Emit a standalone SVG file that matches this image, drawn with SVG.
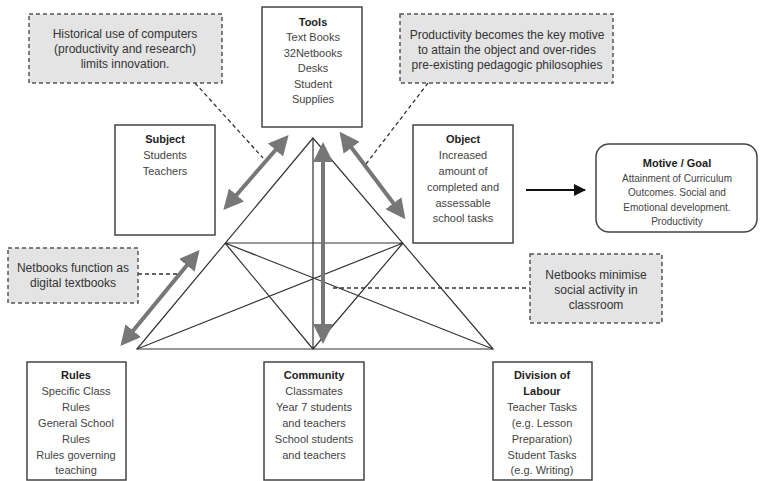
<svg xmlns="http://www.w3.org/2000/svg" width="762" height="481" viewBox="0 0 762 481">
<style>
.box{fill:#fff;stroke:#444;stroke-width:1.5}
.note{fill:#e4e4e4;stroke:#555;stroke-width:1.5;stroke-dasharray:4 3}
.dash{fill:none;stroke:#333;stroke-width:1.3;stroke-dasharray:4 3}
.tri{fill:none;stroke:#333;stroke-width:1.2}
.big{fill:none;stroke:#777;stroke-width:4;marker-start:url(#hs);marker-end:url(#he)}
text{font-family:"Liberation Sans",Arial,sans-serif;text-anchor:middle;fill:#444;font-size:11px}
.h{font-weight:bold;fill:#222}
.n{font-size:12px;fill:#333}
.m{font-size:10px}
</style>
<defs>
<marker id="he" markerWidth="5" markerHeight="5" refX="4" refY="2.5" orient="auto" markerUnits="strokeWidth"><path d="M0,0 L5,2.5 L0,5 Z" fill="#777"/></marker>
<marker id="hs" markerWidth="5" markerHeight="5" refX="1" refY="2.5" orient="auto" markerUnits="strokeWidth"><path d="M5,0 L0,2.5 L5,5 Z" fill="#777"/></marker>
<marker id="blk" markerWidth="12" markerHeight="12" refX="11" refY="6" orient="auto" markerUnits="userSpaceOnUse"><path d="M0,0 L12,6 L0,12 Z" fill="#111"/></marker>
</defs>
<g id="connectors">
<path class="tri" d="M313,138 L137,349 L493,349 Z"/>
<path class="tri" d="M225,243 L403,243 M313,138 L313,349 M225,243 L313,349 M225,243 L493,349 M403,243 L313,349 M403,243 L137,349"/>
<path class="big" d="M226,207 L286,138"/>
<path class="big" d="M342,135 L403,216"/>
<path class="big" d="M323,146 L323,340"/>
<path class="big" d="M123,343 L197,253"/>
<path class="dash" d="M195,83 L263,158"/>
<path class="dash" d="M428,83 L366,164"/>
<path class="dash" d="M138,274 L178,274"/>
<path class="dash" d="M333,288 L530,288"/>
<path d="M526,190 L585,190" stroke="#111" stroke-width="2" fill="none" marker-end="url(#blk)"/>
</g>
<g id="note-historical">
<rect class="note" x="29" y="14" width="193" height="69"/>
<text class="n" x="125" y="38">Historical use of computers</text>
<text class="n" x="125" y="53">(productivity and research)</text>
<text class="n" x="125" y="68">limits innovation.</text>
</g>
<g id="tools">
<rect class="box" x="262" y="7" width="100" height="120"/>
<text class="h" x="313" y="26">Tools</text>
<text x="313" y="41">Text Books</text>
<text x="313" y="57">32Netbooks</text>
<text x="313" y="72">Desks</text>
<text x="313" y="88">Student</text>
<text x="313" y="103">Supplies</text>
</g>
<g id="note-productivity">
<rect class="note" x="400" y="14" width="213" height="69"/>
<text class="n" x="507" y="39">Productivity becomes the key motive</text>
<text class="n" x="507" y="54">to attain the object and over-rides</text>
<text class="n" x="507" y="69">pre-existing pedagogic  philosophies</text>
</g>
<g id="subject">
<rect class="box" x="115" y="125" width="100" height="110"/>
<text class="h" x="165" y="143">Subject</text>
<text x="165" y="159">Students</text>
<text x="165" y="175">Teachers</text>
</g>
<g id="object">
<rect class="box" x="413" y="125" width="100" height="118"/>
<text class="h" x="463" y="143">Object</text>
<text x="463" y="159">Increased</text>
<text x="463" y="175">amount of</text>
<text x="463" y="191">completed and</text>
<text x="463" y="207">assessable</text>
<text x="463" y="222">school tasks</text>
</g>
<g id="motive">
<rect class="box" x="596" y="144" width="161" height="88" rx="13"/>
<text class="h" x="677" y="167">Motive / Goal</text>
<text class="m" x="677" y="182">Attainment of Curriculum</text>
<text class="m" x="677" y="196">Outcomes. Social and</text>
<text class="m" x="677" y="211">Emotional development.</text>
<text class="m" x="677" y="225">Productivity</text>
</g>
<g id="note-textbooks">
<rect class="note" x="8" y="248" width="130" height="55"/>
<text class="n" x="73" y="272">Netbooks function as</text>
<text class="n" x="73" y="287">digital textbooks</text>
</g>
<g id="note-social">
<rect class="note" x="530" y="254" width="132" height="69"/>
<text class="n" x="596" y="279">Netbooks minimise</text>
<text class="n" x="596" y="294">social activity in</text>
<text class="n" x="596" y="309">classroom</text>
</g>
<g id="rules">
<rect class="box" x="27" y="362" width="99" height="118"/>
<text class="h" x="76" y="379">Rules</text>
<text x="76" y="395">Specific Class</text>
<text x="76" y="411">Rules</text>
<text x="76" y="427">General School</text>
<text x="76" y="443">Rules</text>
<text x="76" y="459">Rules governing</text>
<text x="76" y="474">teaching</text>
</g>
<g id="community">
<rect class="box" x="264" y="362" width="100" height="118"/>
<text class="h" x="314" y="379">Community</text>
<text x="314" y="395">Classmates</text>
<text x="314" y="411">Year 7 students</text>
<text x="314" y="427">and teachers</text>
<text x="314" y="443">School students</text>
<text x="314" y="459">and teachers</text>
</g>
<g id="division">
<rect class="box" x="493" y="362" width="99" height="118"/>
<text class="h" x="542" y="379">Division of</text>
<text class="h" x="542" y="395">Labour</text>
<text x="542" y="411">Teacher Tasks</text>
<text x="542" y="427">(e.g. Lesson</text>
<text x="542" y="443">Preparation)</text>
<text x="542" y="459">Student Tasks</text>
<text x="542" y="474">(e.g. Writing)</text>
</g>
</svg>
